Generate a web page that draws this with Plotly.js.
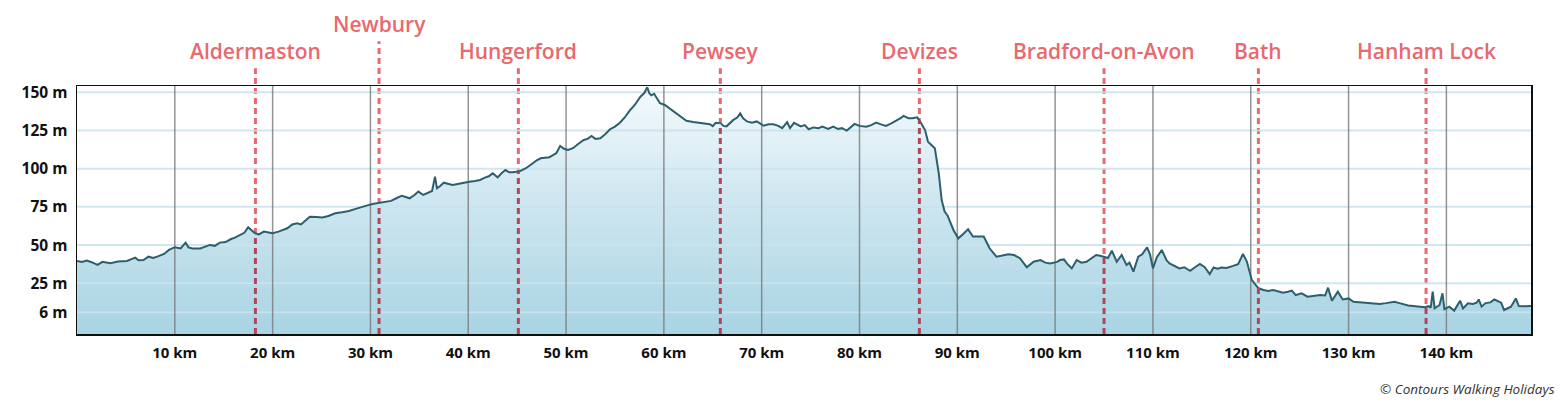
<!DOCTYPE html>
<html>
<head>
<meta charset="utf-8">
<script src="https://cdn.plot.ly/plotly-3.0.1.min.js"></script>
<style>
  html, body { margin: 0; padding: 0; background: #ffffff; }
  #chart { width: 1564px; height: 403px; }
</style>
</head>
<body>
<div id="chart"></div>
<script>
// ---- data ----
const distanceKm = [
  0, 0.5, 1.0, 1.5, 2.1, 2.6, 3.4, 4.2, 5.1, 5.95, 6.3, 6.8, 7.3, 7.8, 8.2, 8.9, 9.4, 10.0, 10.6, 11.1,
  11.4, 11.8, 12.6, 13.1, 13.6, 14.1, 14.6, 15.2, 15.7, 16.2, 16.7, 17.1, 17.5, 17.9, 18.2, 18.6, 19.1, 19.6, 20.0, 20.6,
  21.0, 21.5, 22.0, 22.5, 22.9, 23.2, 23.8, 24.5, 25.1, 25.7, 26.4, 27.1, 27.8, 28.4, 29.1, 29.6, 30.2, 30.6, 31.1, 31.6,
  32.1, 32.7, 33.2, 33.6, 34.0, 34.5, 34.9, 35.4, 35.9, 36.3, 36.6, 36.8, 37.1, 37.5, 38.0, 38.4, 38.8, 39.1, 39.6, 40.1,
  40.7, 41.2, 41.7, 42.1, 42.5, 43.0, 43.4, 43.8, 44.2, 44.5, 45.2, 45.9, 46.6, 47.0, 47.4, 47.9, 48.3, 48.7, 49.0, 49.4,
  49.8, 50.2, 50.7, 51.2, 51.8, 52.2, 52.6, 53.0, 53.5, 54.0, 54.5, 55.0, 55.5, 56.0, 56.5, 57.0, 57.6, 58.0, 58.3, 58.5,
  58.7, 59.0, 59.3, 59.6, 60.1, 60.7, 61.3, 61.8, 62.3, 63.0, 63.7, 64.2, 64.7, 65.0, 65.3, 65.8, 66.1, 66.4, 66.8, 67.1,
  67.5, 67.8, 68.1, 68.5, 69.0, 69.5, 70.2, 70.7, 71.2, 71.7, 72.1, 72.6, 72.9, 73.3, 74.0, 74.4, 74.8, 75.3, 75.8, 76.2,
  76.8, 77.3, 77.8, 78.2, 78.7, 79.1, 79.5, 80.0, 80.7, 81.2, 81.7, 82.2, 82.7, 83.2, 83.8, 84.2, 84.5, 85.0, 85.4, 85.9,
  86.2, 86.7, 87.0, 87.4, 87.7, 88.1, 88.4, 88.7, 89.0, 89.6, 90.1, 90.6, 91.1, 91.6, 92.1, 92.7, 93.3, 93.7, 94.0, 94.5,
  95.2, 95.8, 96.4, 97.1, 97.6, 97.8, 98.5, 99.0, 99.5, 100.2, 100.5, 100.9, 101.2, 101.7, 102.2, 102.7, 103.2, 103.7, 104.2, 104.6,
  105.0, 105.4, 105.8, 106.3, 106.8, 107.3, 107.6, 108.0, 108.5, 108.9, 109.4, 109.7, 110.0, 110.4, 110.9, 111.4, 111.7, 112.2, 112.7, 113.2,
  113.8, 114.3, 114.8, 115.3, 115.8, 116.2, 116.6, 117.0, 117.5, 118.2, 118.7, 119.0, 119.2, 119.6, 120.1, 120.5, 120.8, 121.3, 121.8, 122.3,
  122.8, 123.3, 123.8, 124.2, 124.6, 125.2, 125.8, 126.4, 127.1, 127.6, 127.9, 128.3, 128.9, 129.4, 130.0, 130.5, 131.2, 131.8, 132.5, 133.2,
  133.8, 134.4, 134.7, 135.2, 135.6, 136.1, 136.6, 137.2, 137.8, 138.2, 138.4, 138.6, 138.8, 139.3, 139.6, 139.8, 140.3, 140.8, 141.4, 141.7,
  142.2, 142.7, 143.1, 143.3, 143.6, 144.0, 144.5, 144.9, 145.3, 145.6, 145.9, 146.3, 146.6, 147.1, 147.4, 148.0, 148.65
];
const elevationM = [
  39.6, 39.0, 39.8, 38.8, 37.0, 39.0, 38.1, 39.2, 39.6, 41.8, 40.0, 40.2, 42.4, 41.5, 42.4, 44.2, 46.8, 48.6, 47.8, 51.6,
  48.5, 47.8, 47.8, 49.0, 50.1, 49.5, 51.6, 52.0, 53.8, 55.0, 56.6, 58.0, 61.6, 59.5, 57.7, 57.0, 58.8, 58.2, 57.7, 58.8,
  60.0, 61.0, 63.5, 64.3, 63.5, 65.3, 68.6, 68.4, 68.0, 69.0, 70.8, 71.5, 72.3, 73.5, 75.1, 75.8, 76.9, 77.3, 77.7, 78.3,
  78.9, 80.8, 82.3, 81.5, 80.6, 82.8, 85.0, 82.8, 84.0, 85.4, 94.8, 87.2, 88.5, 90.8, 90.0, 89.3, 89.8, 90.3, 91.0, 91.5,
  92.0, 92.6, 94.1, 95.0, 97.0, 94.3, 97.0, 99.1, 97.6, 97.6, 98.1, 100.3, 103.5, 105.5, 106.8, 107.0, 107.5, 109.0, 110.1, 114.9,
  113.0, 112.2, 113.4, 116.0, 118.8, 119.5, 121.4, 119.5, 119.9, 122.5, 125.8, 127.5, 130.1, 133.5, 138.0, 141.5, 147.1, 149.5, 153.3, 149.5,
  148.0, 149.0, 145.5, 142.8, 141.7, 139.0, 136.3, 133.5, 131.4, 130.5, 129.8, 129.5, 129.1, 127.8, 130.0, 129.8, 128.0, 127.7, 130.0, 131.9,
  133.5, 136.2, 133.0, 130.9, 130.0, 130.9, 128.1, 129.0, 129.1, 128.0, 126.5, 130.4, 126.5, 130.0, 127.7, 128.5, 125.8, 127.0, 126.5, 127.5,
  126.0, 127.5, 126.0, 126.5, 124.9, 127.0, 129.3, 128.0, 127.5, 128.5, 130.2, 129.0, 128.0, 129.5, 131.4, 133.0, 134.5, 133.0, 133.0, 133.6,
  130.8, 125.3, 117.7, 115.5, 113.4, 97.0, 79.5, 71.9, 69.4, 59.9, 54.4, 57.3, 60.3, 55.6, 55.6, 55.6, 47.9, 44.6, 42.4, 43.0,
  44.0, 43.5, 41.4, 35.5, 38.5, 39.1, 40.2, 38.5, 38.0, 39.0, 40.2, 40.6, 38.0, 34.7, 40.2, 38.5, 39.1, 41.3, 43.5, 43.0,
  42.4, 41.5, 46.3, 39.1, 43.5, 37.0, 38.5, 32.6, 42.4, 44.0, 48.5, 44.0, 34.7, 42.0, 46.8, 40.0, 38.0, 36.5, 34.7, 35.5,
  33.2, 35.5, 37.6, 35.5, 31.0, 35.3, 34.5, 35.3, 35.0, 36.4, 37.5, 41.4, 44.2, 39.2, 27.2, 24.0, 21.7, 20.6, 20.0, 20.6,
  19.5, 18.8, 19.5, 20.2, 17.3, 18.4, 16.2, 16.8, 17.3, 17.0, 22.1, 13.6, 19.5, 14.4, 15.1, 12.9, 12.5, 11.9, 11.5, 11.5,
  12.0, 12.5, 12.9, 12.0, 11.2, 10.5, 10.1, 9.6, 9.3, 10.0, 9.0, 19.5, 8.6, 10.8, 18.4, 8.0, 9.7, 7.1, 13.6, 8.6,
  11.9, 11.5, 12.3, 14.4, 9.7, 12.0, 12.5, 14.4, 13.0, 12.3, 7.5, 9.0, 9.7, 15.1, 10.1, 10.0, 10.1
];
const townNames = ["Aldermaston", "Newbury", "Hungerford", "Pewsey", "Devizes", "Bradford-on-Avon", "Bath", "Hanham Lock"];
const townKm = [18.24, 30.88, 45.12, 65.77, 86.12, 105.0, 120.78, 137.92];
const xTickVals = [10, 20, 30, 40, 50, 60, 70, 80, 90, 100, 110, 120, 130, 140];
const xTickText = xTickVals.map(v => v + " km");
const yTickVals = [6, 25, 50, 75, 100, 125, 150];
const yTickText = yTickVals.map(v => v + " m");
const xRange = [0, 148.65];
const yRange = [-8.2, 154.1];
const creditText = "© Contours Walking Holidays";

// ---- helpers ----
function elevAt(km) {
  for (let i = 1; i < distanceKm.length; i++) {
    if (distanceKm[i] >= km) {
      const t = (km - distanceKm[i - 1]) / (distanceKm[i] - distanceKm[i - 1]);
      return elevationM[i - 1] + t * (elevationM[i] - elevationM[i - 1]);
    }
  }
  return elevationM[elevationM.length - 1];
}

const baseline = {
  x: xRange, y: [yRange[0], yRange[0]],
  mode: 'lines', line: { width: 0, color: 'rgba(0,0,0,0)' },
  hoverinfo: 'skip', showlegend: false
};
const profileFill = {
  x: distanceKm, y: elevationM,
  mode: 'lines', fill: 'tonexty',
  fillgradient: { type: 'vertical', start: yRange[0], stop: yRange[1],
    colorscale: [[0, '#a9d4e3'], [0.55, '#cfe7f0'], [1, '#f4fafd']] },
  line: { color: 'rgba(0,0,0,0)', width: 0 },
  hoverinfo: 'skip', showlegend: false
};
// gridlines drawn as traces so they sit above the fill but below the profile line
const hx = [], hy = [];
yTickVals.forEach(v => { hx.push(xRange[0], xRange[1], null); hy.push(v, v, null); });
const hGrid = { x: hx, y: hy, mode: 'lines', line: { color: 'rgba(200,227,238,0.85)', width: 2 },
  hoverinfo: 'skip', showlegend: false };
const vx = [], vy = [];
xTickVals.forEach(v => { vx.push(v, v, null); vy.push(yRange[0], yRange[1], null); });
const vGrid = { x: vx, y: vy, mode: 'lines', line: { color: 'rgba(120,120,120,0.8)', width: 1.5 },
  hoverinfo: 'skip', showlegend: false };
const profileLine = {
  x: distanceKm, y: elevationM, mode: 'lines',
  line: { color: '#2c5f6e', width: 2 },
  hoverinfo: 'skip', showlegend: false
};

const shapes = [];
const dashPattern = '6px,4px';
townKm.forEach((km, i) => {
  const top = townNames[i] === 'Newbury' ? 1.18 : 1.072;
  shapes.push({ type: 'line', xref: 'x', yref: 'paper', x0: km, x1: km, y0: 0, y1: top,
    layer: 'below', line: { color: '#e8696e', width: 3, dash: dashPattern } });
});
townKm.forEach(km => {
  shapes.push({ type: 'line', xref: 'x', yref: 'y', x0: km, x1: km, y0: yRange[0], y1: elevAt(km),
    layer: 'above', line: { color: '#b04657', width: 3, dash: dashPattern } });
});

const annotations = townNames.map((name, i) => ({
  xref: 'x', yref: 'paper', x: townKm[i], y: name === 'Newbury' ? 1.25 : 1.141,
  xanchor: 'center', yanchor: 'middle', showarrow: false, text: name,
  font: { family: 'Open Sans, sans-serif', size: 21, weight: 600, color: '#e8696e' }
}));
annotations.push({
  xref: 'paper', yref: 'paper', x: 1.018, y: -0.222, xanchor: 'right', yanchor: 'middle',
  showarrow: false, text: creditText,
  font: { family: 'Open Sans, sans-serif', size: 13.5, style: 'italic', color: '#333333' }
});

const tickFont = { family: 'Open Sans, sans-serif', size: 15, weight: 700, color: '#111111' };
const layout = {
  width: 1564, height: 403,
  margin: { l: 77, r: 33, t: 86, b: 69, pad: 0 },
  paper_bgcolor: '#ffffff', plot_bgcolor: '#ffffff',
  showlegend: false,
  xaxis: {
    range: xRange, tickmode: 'array', tickvals: xTickVals, ticktext: xTickText,
    showgrid: false, zeroline: false, ticks: '', tickfont: tickFont, ticklabelstandoff: 4,
    showline: true, mirror: true, linecolor: '#111111', linewidth: 1.5, fixedrange: true
  },
  yaxis: {
    range: yRange, tickmode: 'array', tickvals: yTickVals, ticktext: yTickText,
    showgrid: false, zeroline: false, ticks: '', tickfont: Object.assign({}, tickFont, { size: 15.5 }),
    ticklabelstandoff: 5,
    showline: true, mirror: true, linecolor: '#111111', linewidth: 1.5, fixedrange: true
  },
  shapes: shapes,
  annotations: annotations
};

Plotly.newPlot('chart', [baseline, profileFill, hGrid, vGrid, profileLine], layout,
  { staticPlot: true, displayModeBar: false });
</script>
</body>
</html>
